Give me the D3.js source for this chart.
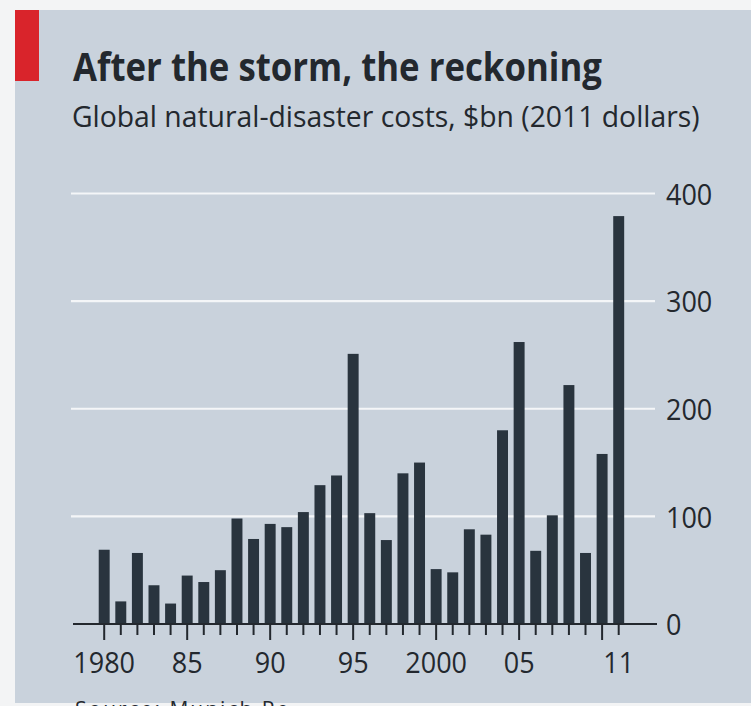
<!DOCTYPE html>
<html>
<head>
<meta charset="utf-8">
<script src="https://cdn.jsdelivr.net/npm/d3@7"></script>
<style>
  html, body { margin: 0; padding: 0; background: #f3f4f5; }
  svg { display: block; }
  text { font-family: "Open Sans", "Noto Sans", sans-serif; fill: #23282e; }
</style>
</head>
<body>
<script>
// Global natural-disaster costs, $bn (2011 dollars)
const years = d3.range(1980, 2012);
const costs = [
  69, 21, 66, 36, 19, 45, 39, 50, 98, 79,
  93, 90, 104, 129, 138, 251, 103, 78, 140, 150,
  51, 48, 88, 83, 180, 262, 68, 101, 222, 66,
  158, 379
];
const yTicks = [0, 100, 200, 300, 400];
const xLabels = { 1980: "1980", 1985: "85", 1990: "90", 1995: "95", 2000: "2000", 2005: "05", 2011: "11" };
const majorTicks = [1980, 1985, 1990, 1995, 2000, 2005, 2010];

const W = 751, H = 706;
const svg = d3.select("body").append("svg").attr("width", W).attr("height", H);

// panel
svg.append("rect").attr("x", 15).attr("y", 10).attr("width", W - 15).attr("height", 693)
  .attr("fill", "#c9d2dc");
svg.append("rect").attr("x", 15).attr("y", 10).attr("width", 24).attr("height", 71)
  .attr("fill", "#d9242b");

// stretch a text element horizontally about its anchor so it spans a given width
function fitWidth(sel, width, anchorX) {
  const len = sel.node().getComputedTextLength();
  const k = width / len;
  sel.attr("transform", `translate(${anchorX},0) scale(${k},1) translate(${-anchorX},0)`);
}

const title = svg.append("text").attr("x", 73).attr("y", 81)
  .attr("font-size", 40).attr("font-weight", 700).attr("fill", "#2a2f35")
  .text("After the storm, the reckoning");
fitWidth(title, 529, 73);

const sub = svg.append("text").attr("x", 72).attr("y", 127)
  .attr("font-size", 29).attr("fill", "#23282e")
  .text("Global natural-disaster costs, $bn (2011 dollars)");
fitWidth(sub, 628, 72);

// scales
const x = d3.scaleBand().domain(years).range([95.9, 627]).paddingInner(0.34).paddingOuter(0.17);
const y = d3.scaleLinear().domain([0, 400]).range([624, 193.5]);

// gridlines
svg.append("g").selectAll("line").data(yTicks.filter(d => d > 0)).join("line")
  .attr("x1", 71).attr("x2", 655)
  .attr("y1", d => y(d)).attr("y2", d => y(d))
  .attr("stroke", "#f4f6f8").attr("stroke-width", 2.2);

// bars
svg.append("g").selectAll("rect").data(years).join("rect")
  .attr("x", d => x(d))
  .attr("width", x.bandwidth())
  .attr("y", (d, i) => y(costs[i]))
  .attr("height", (d, i) => y(0) - y(costs[i]))
  .attr("fill", "#29343e");

// y axis on the right
const yAxis = svg.append("g").attr("transform", "translate(666,0)")
  .call(d3.axisRight(y).tickValues(yTicks).tickSize(0).tickPadding(0));
yAxis.select(".domain").remove();
yAxis.selectAll("text")
  .attr("font-size", 30).attr("font-family", null).attr("fill", "#23282e")
  .attr("x", 0).attr("dy", "0.36em")
  .each(function () { fitWidth(d3.select(this), this.getComputedTextLength() * 0.9, 0); });

// x axis
const xAxis = svg.append("g").attr("transform", `translate(0,${y(0)})`)
  .call(d3.axisBottom(x).tickValues(years).tickFormat(d => xLabels[d] || "").tickSizeOuter(0));
xAxis.select(".domain").remove();
xAxis.selectAll(".tick line")
  .attr("stroke", "#23282e").attr("stroke-width", 2)
  .attr("y2", d => majorTicks.includes(d) ? 16 : 11);
xAxis.selectAll(".tick text")
  .attr("font-size", 30).attr("font-family", null).attr("fill", "#23282e")
  .attr("y", 49).attr("dy", 0)
  .each(function () { fitWidth(d3.select(this), this.getComputedTextLength() * 0.9, 0); });
svg.append("line").attr("x1", 73).attr("x2", 657).attr("y1", y(0)).attr("y2", y(0))
  .attr("stroke", "#23282e").attr("stroke-width", 2);

// source note
svg.append("text").attr("x", 75).attr("y", 717).attr("font-size", 21)
  .attr("letter-spacing", 2).text("Source: Munich Re");
</script>
</body>
</html>
